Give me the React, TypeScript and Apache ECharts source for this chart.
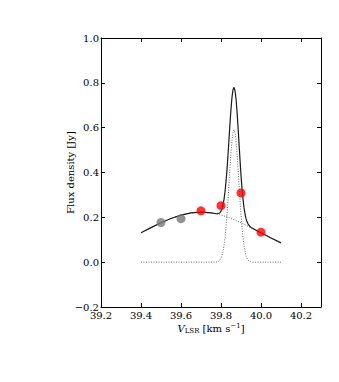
import React, { useEffect, useRef } from "react";
import * as echarts from "echarts";

const velocity = [
  39.4, 39.45, 39.5, 39.55, 39.6, 39.65, 39.7, 39.75, 39.77, 39.775, 39.78, 39.785, 39.79, 39.795,
  39.8, 39.805, 39.81, 39.815, 39.82, 39.825, 39.83, 39.835, 39.84, 39.845, 39.85, 39.855, 39.86,
  39.865, 39.87, 39.875, 39.88, 39.885, 39.89, 39.895, 39.9, 39.905, 39.91, 39.915, 39.92, 39.925,
  39.93, 39.935, 39.94, 39.95, 39.96, 39.98, 40.0, 40.05, 40.1,
];

const totalFlux = [
  0.131, 0.154, 0.176, 0.195, 0.21, 0.22, 0.223, 0.22, 0.217, 0.216, 0.216, 0.217, 0.218, 0.221,
  0.228, 0.238, 0.255, 0.28, 0.314, 0.359, 0.414, 0.479, 0.549, 0.62, 0.684, 0.736, 0.769,
  0.78, 0.766, 0.729, 0.673, 0.605, 0.531, 0.457, 0.388, 0.329, 0.281, 0.243, 0.215, 0.194,
  0.18, 0.171, 0.164, 0.155, 0.15, 0.14, 0.131, 0.108, 0.086,
];

const broadFlux = [
  0.131, 0.154, 0.176, 0.195, 0.21, 0.22, 0.223, 0.22, 0.217, 0.216, 0.215, 0.214, 0.213, 0.211,
  0.21, 0.209, 0.208, 0.206, 0.205, 0.203, 0.202, 0.2, 0.199, 0.197, 0.195, 0.193, 0.192,
  0.19, 0.188, 0.186, 0.184, 0.182, 0.18, 0.178, 0.176, 0.174, 0.172, 0.169, 0.167, 0.165,
  0.163, 0.161, 0.158, 0.154, 0.149, 0.14, 0.131, 0.108, 0.086,
];

const narrowFlux = [
  0, 0, 0, 0, 0, 0, 0, 0, 0, 0.001, 0.001, 0.003, 0.005, 0.01,
  0.018, 0.029, 0.048, 0.074, 0.109, 0.156, 0.213, 0.279, 0.351, 0.423, 0.489, 0.543, 0.578,
  0.59, 0.578, 0.543, 0.489, 0.423, 0.351, 0.279, 0.213, 0.156, 0.109, 0.074, 0.048, 0.029,
  0.018, 0.01, 0.005, 0.001, 0, 0, 0, 0, 0,
];

const grayVelocity = [39.5, 39.6];
const grayFlux = [0.177, 0.194];
const redVelocity = [39.7, 39.8, 39.9, 40.0];
const redFlux = [0.229, 0.252, 0.309, 0.134];

const FONT = "DejaVu Serif";

function pairs(xs: number[], ys: number[]) {
  return xs.map((x, i) => [x, ys[i]]);
}

export default function App() {
  const ref = useRef<HTMLDivElement>(null);
  useEffect(() => {
    if (!ref.current) return;
    const chart = echarts.init(ref.current, undefined, { renderer: "svg" });
    const fmtY = (v: number) => {
      const s = Math.abs(v).toFixed(1);
      return v < -1e-9 ? "\u2212" + s : s;
    };
    const axisCommon = {
      type: "value" as const,
      splitLine: { show: false },
      axisLine: { show: true, onZero: false, lineStyle: { color: "#000", width: 1 } },
      axisTick: { show: true, inside: true, length: 4, lineStyle: { color: "#000" } },
    };
    chart.setOption({
      animation: false,
      grid: { left: 101, right: 18, top: 38, bottom: 75, containLabel: false },
      xAxis: [
        {
          ...axisCommon,
          position: "bottom",
          min: 39.2,
          max: 40.3,
          interval: 0.2,
          axisLabel: {
            show: true,
            showMaxLabel: false,
            margin: 3,
            color: "#000",
            fontFamily: FONT,
            fontSize: 10,
            formatter: (v: number) => v.toFixed(1),
          },
          name: "{i|V}{sub|LSR} [km s{sup|\u22121}]",
          nameLocation: "middle",
          nameGap: 15,
          nameMoveOverlap: false,
          nameTextStyle: {
            color: "#000",
            fontFamily: FONT,
            fontSize: 10,
            rich: {
              i: { fontFamily: FONT, fontSize: 10, fontStyle: "italic", color: "#000" },
              sub: { fontFamily: FONT, fontSize: 7, color: "#000", verticalAlign: "bottom", padding: [4, 0, 0, 0] },
              sup: { fontFamily: FONT, fontSize: 7, color: "#000", verticalAlign: "top", padding: [0, 0, 5, 0] },
            },
          },
        },
        {
          ...axisCommon,
          position: "top",
          min: 39.2,
          max: 40.3,
          interval: 0.2,
          axisLabel: { show: false },
        },
      ],
      yAxis: [
        {
          ...axisCommon,
          position: "left",
          min: -0.2,
          max: 1.0,
          interval: 0.2,
          axisLabel: {
            show: true,
            margin: 2,
            color: "#000",
            fontFamily: FONT,
            fontSize: 10,
            formatter: fmtY,
          },
          name: "Flux density [Jy]",
          nameLocation: "middle",
          nameRotate: 90,
          nameGap: 26,
          nameMoveOverlap: false,
          nameTextStyle: { color: "#000", fontFamily: FONT, fontSize: 10 },
        },
        {
          ...axisCommon,
          position: "right",
          min: -0.2,
          max: 1.0,
          interval: 0.2,
          axisLabel: { show: false },
        },
      ],
      series: [
        {
          type: "line",
          data: pairs(velocity, broadFlux),
          showSymbol: false,
          symbol: "none",
          lineStyle: { color: "#666", width: 1, type: [1, 1.5] },
          z: 2,
        },
        {
          type: "line",
          data: pairs(velocity, narrowFlux),
          showSymbol: false,
          symbol: "none",
          lineStyle: { color: "#666", width: 1, type: [1, 1.5] },
          z: 2,
        },
        {
          type: "line",
          data: pairs(velocity, totalFlux),
          showSymbol: false,
          symbol: "none",
          lineStyle: { color: "#1a1a1a", width: 1.2 },
          z: 3,
        },
        {
          type: "scatter",
          data: pairs(grayVelocity, grayFlux),
          symbolSize: 9,
          itemStyle: { color: "#777777" },
          z: 4,
        },
        {
          type: "scatter",
          data: pairs(redVelocity, redFlux),
          symbolSize: 9,
          itemStyle: { color: "#ff0000" },
          z: 4,
        },
      ],
    });
    return () => chart.dispose();
  }, []);
  return <div ref={ref} style={{ width: 339, height: 382, position: "absolute", left: 0, top: 0 }} />;
}
